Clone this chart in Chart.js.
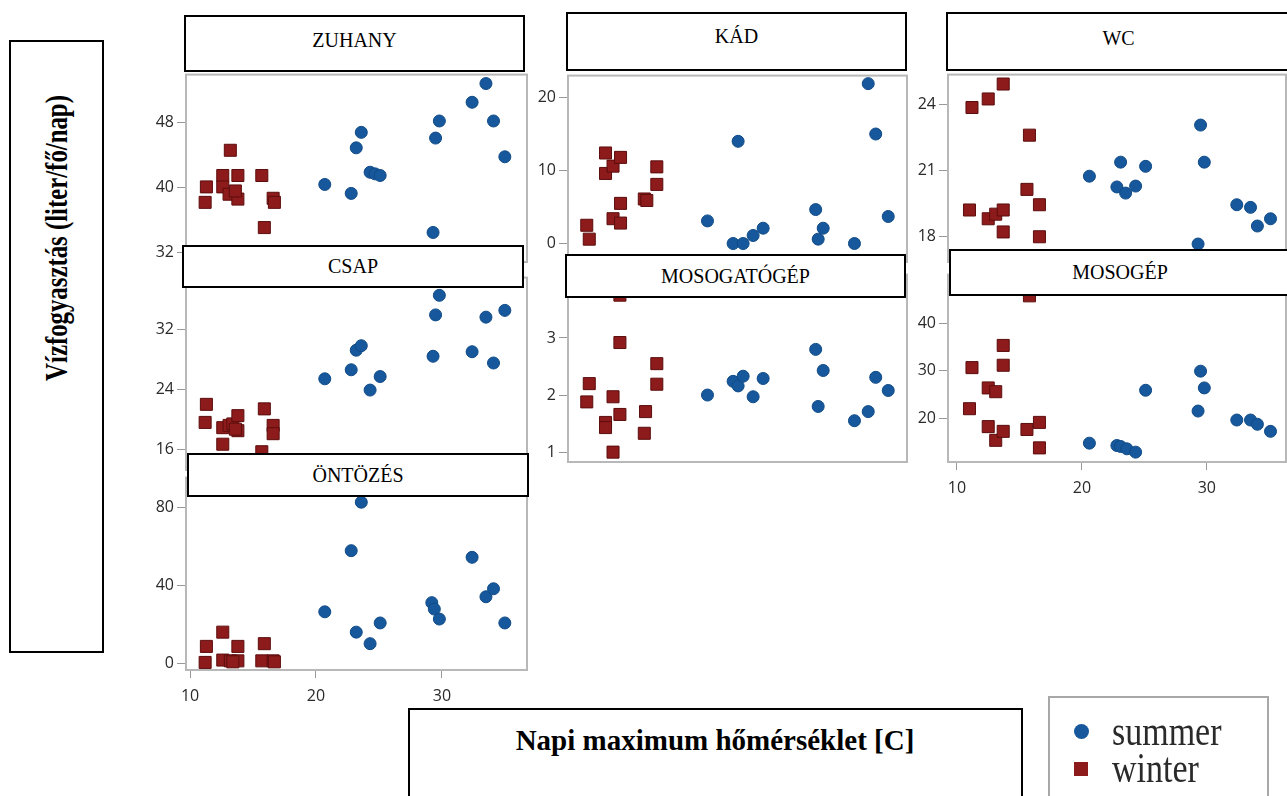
<!DOCTYPE html>
<html>
<head>
<meta charset="utf-8">
<script src="https://cdn.jsdelivr.net/npm/chart.js@4.4.1/dist/chart.umd.min.js"></script>
<style>
    body {
        margin: 0;
        width: 1287px;
        height: 796px;
        overflow: hidden;
        background: #fff;
        position: relative;
    }
    canvas {
        position: absolute;
    }
    .box {
        position: absolute;
        z-index: 10;
        background: #fff;
        border: 2px solid #000;
        box-sizing: border-box;
        font-family: 'Liberation Serif', 'Times New Roman', serif;
        font-size: 20px;
        color: #000;
        display: flex;
        align-items: center;
        justify-content: center;
    }
    .title {
        position: absolute;
        white-space: nowrap;
        font-family: 'Liberation Serif', 'Times New Roman', serif;
        font-weight: bold;
    }
</style>
</head>
<body>

<div class="box" style="left:184px;top:15px;width:341px;height:57px;padding-bottom:6px">ZUHANY</div>
<div class="box" style="left:566px;top:12px;width:341px;height:59px;padding-bottom:10px">KÁD</div>
<div class="box" style="left:946px;top:12px;width:345px;height:59px;padding-bottom:6px">WC</div>
<div class="box" style="left:182px;top:245px;width:342px;height:43px">CSAP</div>
<div class="box" style="left:565px;top:254px;width:341px;height:44px">MOSOGATÓGÉP</div>
<div class="box" style="left:949px;top:249px;width:342px;height:47px">MOSOGÉP</div>
<div class="box" style="left:187px;top:453px;width:342px;height:44px">ÖNTÖZÉS</div>

<div class="box" style="left:9px;top:40px;width:95px;height:613px"></div>
<div class="title" style="z-index:11;left:57px;top:238px;font-size:31px;transform:translate(-50%,-50%) rotate(-90deg) scaleX(0.8)">Vízfogyasztás (liter/fő/nap)</div>

<div class="box" style="left:408px;top:708px;width:615px;height:120px"></div>
<div class="title" style="z-index:11;left:715px;top:724px;font-size:29px;transform:translateX(-50%)">Napi maximum hőmérséklet [C]</div>

<div style="position:absolute;z-index:10;left:1048px;top:696px;width:221px;height:140px;border:2px solid #a8a8a8;box-sizing:border-box;background:#fff"></div>
<div style="position:absolute;z-index:11;left:1074px;top:724px;width:15px;height:15px;border-radius:50%;background:#17589c"></div>
<div style="position:absolute;z-index:11;left:1074px;top:762px;width:14px;height:14px;background:#8e1b1b"></div>
<div class="title" style="z-index:11;left:1112px;top:714px;font-size:34px;font-weight:normal;color:#2a2a2a;line-height:36px;transform:scaleY(1.22)">summer</div>
<div class="title" style="z-index:11;left:1112px;top:751px;font-size:34px;font-weight:normal;color:#2a2a2a;line-height:36px;transform:scaleY(1.22)">winter</div>

<script>
// values: [temperature, consumption]
const zuhanySummer = [[20.7, 40.4], [22.8, 39.3], [23.2, 44.9], [23.6, 46.8], [24.3, 41.9], [24.7, 41.7], [25.1, 41.5],
    [29.3, 34.5], [29.5, 46.1], [29.8, 48.2], [32.4, 50.5], [33.5, 52.8], [34.1, 48.2], [35.0, 43.8]];
const zuhanyWinter = [[11.2, 38.2], [11.3, 40.1], [12.6, 41.5], [12.6, 40.1], [13.2, 44.6], [13.1, 39.2], [13.8, 41.5],
    [13.8, 38.6], [13.6, 39.6], [15.7, 41.5], [15.9, 35.1], [16.6, 38.7], [16.7, 38.2]];

const csapSummer = [[20.7, 25.4], [22.8, 26.6], [23.2, 29.2], [23.6, 29.8], [24.3, 23.9], [25.1, 25.7], [29.3, 28.4],
    [29.5, 33.9], [29.8, 36.5], [32.4, 29.0], [33.5, 33.6], [34.1, 27.5], [35.0, 34.5]];
const csapWinter = [[11.3, 22.0], [11.2, 19.6], [12.6, 18.9], [13.1, 19.2], [13.4, 19.4], [13.8, 20.5], [13.8, 18.5],
    [12.6, 16.7], [15.9, 21.4], [16.6, 19.2], [16.6, 18.1], [15.7, 15.7], [13.6, 18.7]];

const ontozesSummer = [[20.7, 26.4], [22.8, 57.7], [23.2, 16.0], [23.6, 82.5], [24.3, 10.1], [25.1, 20.7], [29.2, 31.1],
    [29.4, 27.8], [29.8, 22.7], [32.4, 54.3], [33.5, 34.1], [34.1, 38.2], [35.0, 20.7]];
const ontozesWinter = [[11.2, 0.5], [11.3, 8.7], [12.6, 16.0], [12.6, 1.7], [13.2, 1.3], [13.8, 8.7], [13.8, 1.3],
    [13.4, 0.8], [15.7, 1.3], [15.9, 10.1], [16.6, 1.3], [16.7, 0.8]];

const kadSummer = [[20.65, 3.1], [22.7, 0], [23.5, 0], [23.1, 14.0], [24.3, 1.1], [25.1, 2.1], [29.3, 4.65],
    [29.5, 0.6], [29.9, 2.1], [32.4, 0], [33.5, 21.9], [34.1, 15.0], [35.1, 3.7]];
const kadWinter = [[11.0, 2.5], [11.2, 0.6], [12.5, 12.4], [12.5, 9.6], [13.1, 10.6], [13.7, 11.8], [13.1, 3.4],
    [13.7, 2.8], [13.7, 5.5], [15.6, 6.1], [15.8, 5.9], [16.6, 10.5], [16.6, 8.1]];

const mosogatoSummer = [[20.65, 2.0], [22.7, 2.24], [23.1, 2.16], [23.5, 2.33], [24.3, 1.97], [25.1, 2.29], [29.3, 2.8],
    [29.5, 1.8], [29.9, 2.43], [32.4, 1.55], [33.5, 1.71], [34.1, 2.31], [35.1, 2.08]];
const mosogatoWinter = [[11.0, 1.88], [11.2, 2.2], [12.5, 1.52], [12.5, 1.43], [13.1, 1.97], [13.1, 1.0], [13.65, 1.66],
    [13.65, 2.92], [13.65, 3.75], [15.6, 1.33], [15.7, 1.71], [16.6, 2.55], [16.6, 2.19]];

const wcSummer = [[20.6, 20.73], [22.8, 20.24], [23.1, 21.37], [23.5, 19.96], [24.3, 20.28], [25.1, 21.18], [29.5, 23.06],
    [29.8, 21.37], [29.3, 17.64], [32.4, 19.43], [33.5, 19.31], [34.05, 18.46], [35.1, 18.79]];
const wcWinter = [[11.0, 19.19], [11.2, 23.86], [12.5, 24.25], [12.5, 18.79], [13.1, 19.0], [13.7, 19.19], [13.7, 24.93],
    [13.7, 18.19], [15.6, 20.13], [15.8, 22.6], [16.6, 19.43], [16.6, 17.97]];

const mosoSummer = [[20.6, 14.7], [22.8, 14.2], [23.1, 14.0], [23.6, 13.5], [24.3, 12.8], [25.1, 25.9], [29.5, 29.95],
    [29.8, 26.4], [29.3, 21.5], [32.4, 19.6], [33.5, 19.6], [34.05, 18.7], [35.1, 17.2]];
const mosoWinter = [[11.0, 22.0], [11.2, 30.7], [12.5, 26.4], [13.1, 25.6], [12.5, 18.2], [13.1, 15.3], [13.7, 17.2],
    [13.7, 35.4], [13.7, 31.2], [15.6, 17.6], [15.8, 45.9], [16.6, 19.1], [16.6, 13.7]];

// tick labels
const xTicks = [10, 20, 30];
const zuhanyTicks = [32, 40, 48];
const csapTicks = [16, 24, 32];
const ontozesTicks = [0, 40, 80];
const kadTicks = [0, 10, 20];
const mosogatoTicks = [1, 2, 3];
const wcTicks = [18, 21, 24];
const mosoTicks = [20, 30, 40];

// panel layout: plot rectangle [left, top, right, bottom] and axis ranges
const panels = [
    { summer: zuhanySummer, winter: zuhanyWinter, ticks: zuhanyTicks, plot: [186, 72, 527, 262], x: [9.68, 36.76], y: [30.87, 53.9], showX: false },
    { summer: csapSummer, winter: csapWinter, ticks: csapTicks, plot: [186, 275, 527, 470], x: [9.68, 36.76], y: [13.27, 38.86], showX: false },
    { summer: ontozesSummer, winter: ontozesWinter, ticks: ontozesTicks, plot: [186, 475, 527, 670], x: [9.68, 36.76], y: [-3.38, 95.1], showX: true },
    { summer: kadSummer, winter: kadWinter, ticks: kadTicks, plot: [568, 73, 907, 262], x: [9.5, 36.6], y: [-2.53, 23.0], showX: false },
    { summer: mosogatoSummer, winter: mosogatoWinter, ticks: mosogatoTicks, plot: [568, 272, 907, 462], x: [9.5, 36.6], y: [0.827, 4.11], showX: false },
    { summer: wcSummer, winter: wcWinter, ticks: wcTicks, plot: [948, 72, 1286, 262], x: [9.28, 36.34], y: [16.82, 25.36], showX: false },
    { summer: mosoSummer, winter: mosoWinter, ticks: mosoTicks, plot: [948, 272, 1286, 462], x: [9.28, 36.34], y: [10.71, 50.4], showX: true }
];

const framePlugin = {
    id: 'frame',
    beforeDatasetsDraw(chart) {
        const a = chart.chartArea;
        const c = chart.ctx;
        c.save();
        c.strokeStyle = '#b8b8b8';
        c.lineWidth = 2;
        c.strokeRect(a.left, a.top, a.right - a.left, a.bottom - a.top);
        c.restore();
    }
};

const tickFont = { family: 'Open Sans', size: 16, weight: '500' };

panels.forEach(function (p) {
    const [l, t, r, b] = p.plot;
    const cv = document.createElement('canvas');
    cv.width = r - l + 70;
    cv.height = b - t + 50;
    cv.style.left = (l - 60) + 'px';
    cv.style.top = (t - 10) + 'px';
    document.body.appendChild(cv);

    new Chart(cv, {
        type: 'scatter',
        data: {
            datasets: [{
                label: 'summer',
                data: p.summer.map(d => ({ x: d[0], y: d[1] })),
                pointStyle: 'circle',
                pointRadius: 6,
                backgroundColor: '#17589c',
                borderColor: '#0f4a86',
                borderWidth: 1
            }, {
                label: 'winter',
                data: p.winter.map(d => ({ x: d[0], y: d[1] })),
                pointStyle: 'rect',
                pointRadius: 8.5,
                backgroundColor: '#8e1b1b',
                borderColor: '#5c0d0d',
                borderWidth: 1
            }]
        },
        options: {
            responsive: false,
            animation: false,
            layout: { padding: { top: 10, right: 10, left: 0, bottom: 0 } },
            plugins: {
                legend: { display: false },
                tooltip: { enabled: false }
            },
            scales: {
                x: {
                    type: 'linear',
                    min: p.x[0],
                    max: p.x[1],
                    afterFit: s => { s.height = 40; },
                    afterBuildTicks: s => { s.ticks = xTicks.map(v => ({ value: v })); },
                    grid: { drawOnChartArea: false, drawTicks: p.showX, tickLength: 8, color: '#999' },
                    border: { display: false },
                    ticks: { display: p.showX, padding: 9, color: '#2a2a2a', font: tickFont }
                },
                y: {
                    min: p.y[0],
                    max: p.y[1],
                    afterFit: s => { s.width = 60; },
                    afterBuildTicks: s => { s.ticks = p.ticks.map(v => ({ value: v })); },
                    grid: { drawOnChartArea: false, tickLength: 9, color: '#999' },
                    border: { display: false },
                    ticks: { padding: 3, color: '#2a2a2a', font: tickFont }
                }
            }
        },
        plugins: [framePlugin]
    });
});
</script>
</body>
</html>
